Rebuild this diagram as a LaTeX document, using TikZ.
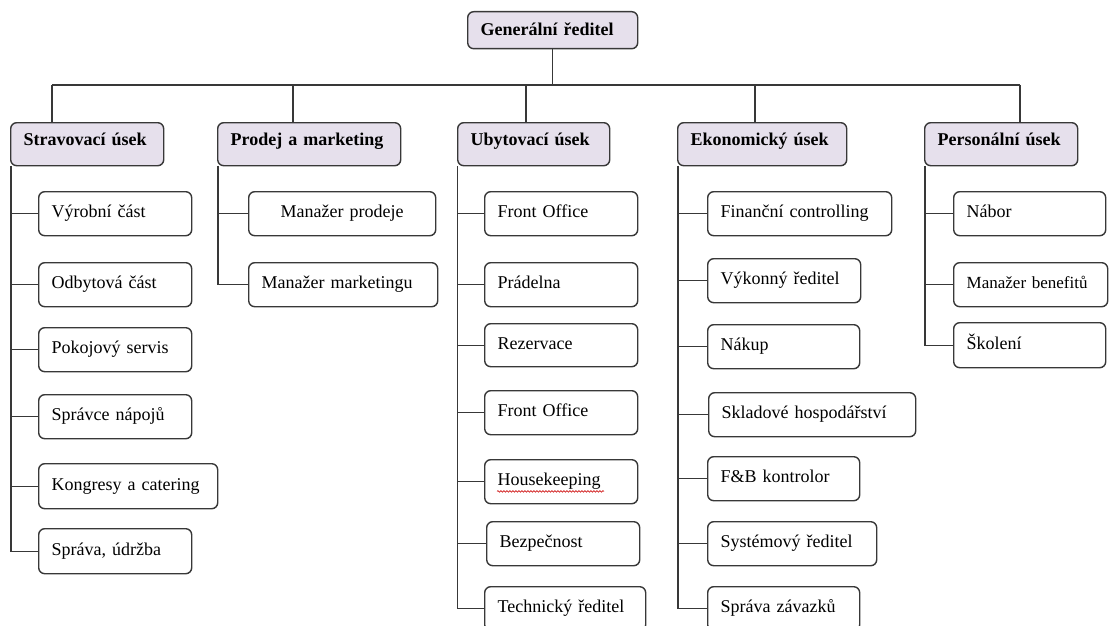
\documentclass[tikz,border=0pt]{standalone}
\usepackage{fontspec}
\setmainfont{Liberation Serif}
\usetikzlibrary{decorations.pathmorphing}
\definecolor{lav}{HTML}{E6E0EC}
\definecolor{bord}{HTML}{383838}
\tikzset{
  base/.style={draw=bord, line width=1.4pt, rounded corners=6pt, fill=white,
    inner xsep=13pt, inner ysep=0pt, align=left, anchor=north west,
    font=\fontsize{18}{20}\selectfont, text height=13pt, text depth=5pt},
  head/.style={base, fill=lav, font=\bfseries\fontsize{18}{20}\selectfont,
    text height=12pt, text depth=9pt, minimum height=43pt},
  kid/.style={base, minimum height=44pt},
  conn/.style={draw=bord, line width=1.3pt},
  squig/.style={draw=red!80!black, line width=0.6pt, decorate,
    decoration={snake, segment length=3pt, amplitude=0.8pt}}
}
\begin{document}
\begin{tikzpicture}[x=1pt,y=-1pt]
\useasboundingbox (0,0) rectangle (1109,626);
\clip (0,0) rectangle (1109,626);
% top
\node[head, minimum height=37pt, text width=144pt, text height=13pt, text depth=2pt] (G) at (467,11) {Generální ředitel};
% level 1
\node[head, text width=127pt] (S) at (10,122) {Stravovací úsek};
\node[head, text width=157pt] (P) at (217,122) {Prodej a marketing};
\node[head, text width=126pt] (U) at (457,122) {Ubytovací úsek};
\node[head, text width=143pt] (E) at (677,122) {Ekonomický úsek};
\node[head, text width=127pt] (R) at (924,122) {Personální úsek};
% bus
\coordinate (d1) at (52,85);
\coordinate (d2) at (293,85);
\coordinate (d3) at (526,85);
\coordinate (d4) at (755,85);
\coordinate (d5) at (1020,85);
\draw[conn] (G.south) -- (G.south |- d1);
\draw[conn] (d1) -- (d5);
\draw[conn] (d1) -- (d1 |- S.north);
\draw[conn] (d2) -- (d2 |- P.north);
\draw[conn] (d3) -- (d3 |- U.north);
\draw[conn] (d4) -- (d4 |- E.north);
\draw[conn] (d5) -- (d5 |- R.north);
% Stravovaci
\node[kid, text width=127pt] (S1) at (38,191) {\mbox{Výrobní část}};
\node[kid, text width=127pt] (S2) at (38,262) {\mbox{Odbytová část}};
\node[kid, text width=127pt] (S3) at (38,327) {\mbox{Pokojový servis}};
\node[kid, text width=127pt] (S4) at (38,394) {\mbox{Správce nápojů}};
\node[kid, text width=153pt, minimum height=45pt] (S5) at (38,463) {\mbox{Kongresy a catering}};
\node[kid, text width=127pt, minimum height=45pt] (S6) at (38,528) {\mbox{Správa, údržba}};
\foreach \c in {S1,S2,S3,S4,S5,S6}
  \draw[conn] ([xshift=1pt]S.south west) |- (\c.west);
% Prodej
\node[kid, text width=161pt, align=center] (P1) at (248,191) {\mbox{Manažer prodeje}};
\node[kid, text width=163pt] (P2) at (248,262) {\mbox{Manažer marketingu}};
\foreach \c in {P1,P2}
  \draw[conn] ([xshift=1pt]P.south west) |- (\c.west);
% Ubytovaci
\node[kid, text width=127pt] (U1) at (484,191) {\mbox{Front Office}};
\node[kid, text width=127pt] (U2) at (484,262) {\mbox{Prádelna}};
\node[kid, text width=127pt, minimum height=43pt] (U3) at (484,323) {\mbox{Rezervace}};
\node[kid, text width=127pt] (U4) at (484,390) {\mbox{Front Office}};
\node[kid, text width=127pt] (U5) at (484,459) {\mbox{Housekeeping}};
\node[kid, text width=127pt] (U6) at (486,521) {\mbox{Bezpečnost}};
\node[kid, text width=135pt] (U7) at (484,586) {\mbox{Technický ředitel}};
\foreach \c in {U1,U2,U3,U4,U5,U6,U7}
  \draw[conn] ([xshift=0.7pt]U.south west) |- (\c.west);
\draw[squig] ([shift={(13,-13)}]U5.south west) -- ++(107,0);
% Ekonomicky
\node[kid, text width=158pt] (E1) at (707,191) {\mbox{Finanční controlling}};
\node[kid, text width=127pt] (E2) at (707,258) {\mbox{Výkonný ředitel}};
\node[kid, text width=126pt] (E3) at (707,324) {\mbox{Nákup}};
\node[kid, text width=181pt] (E4) at (708,392) {\mbox{Skladové hospodářství}};
\node[kid, text width=126pt] (E5) at (707,456) {\mbox{F\&B kontrolor}};
\node[kid, text width=143pt] (E6) at (707,521) {\mbox{Systémový ředitel}};
\node[kid, text width=126pt] (E7) at (707,586) {\mbox{Správa závazků}};
\foreach \c in {E1,E2,E3,E4,E5,E6,E7}
  \draw[conn] ([xshift=1pt]E.south west) |- (\c.west);
% Personalni
\node[kid, text width=126pt] (R1) at (953,191) {\mbox{Nábor}};
\node[kid, text width=128pt, font=\fontsize{17}{20}\selectfont] (R2) at (953,262) {\mbox{Manažer benefitů}};
\node[kid, text width=126pt, minimum height=45pt] (R3) at (953,322) {\mbox{Školení}};
\foreach \c in {R1,R2,R3}
  \draw[conn] ([xshift=1pt]R.south west) |- (\c.west);
\end{tikzpicture}
\end{document}
